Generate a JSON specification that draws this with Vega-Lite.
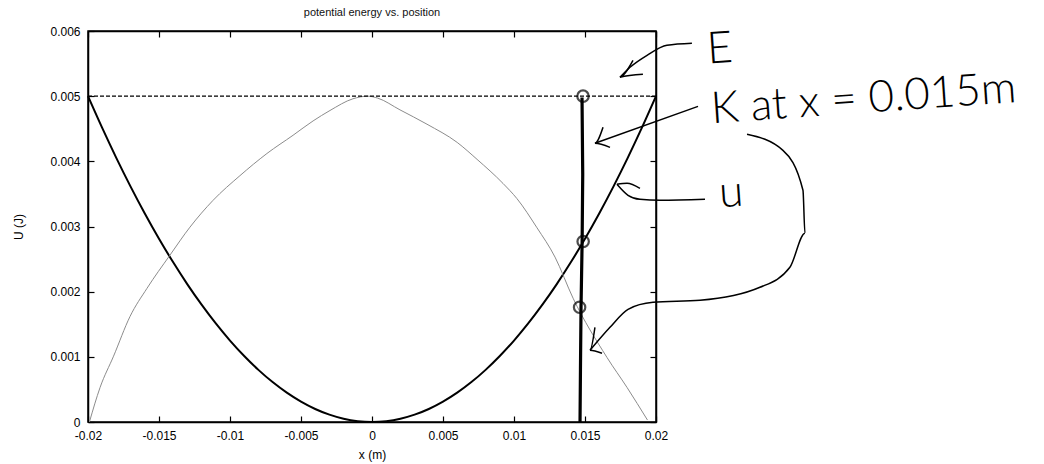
{
  "$schema": "https://vega.github.io/schema/vega-lite/v6.json",
  "autosize": "none",
  "width": 568,
  "height": 391,
  "padding": {"left": 88, "top": 31, "right": 388, "bottom": 42},
  "background": "white",
  "title": {"text": "potential energy vs. position", "fontSize": 11, "font": "Liberation Sans", "fontWeight": "normal", "color": "#111", "offset": 7, "anchor": "middle"},
  "config": {
    "view": {"stroke": "black", "strokeWidth": 1.5},
    "axis": {"grid": false, "labelFlush": false, "labelOverlap": false, "domainColor": "black", "domainWidth": 1.5, "tickColor": "black", "tickWidth": 1.2, "tickSize": -6, "labelFont": "Liberation Sans", "labelFontSize": 12, "labelColor": "black", "titleFont": "Liberation Sans", "titleFontSize": 12, "titleFontWeight": "normal", "titleColor": "black"}
  },
  "datasets": {
    "curves": [
      {"series": "U", "x": -0.02, "y": 0.005}, {"series": "U", "x": -0.019, "y": 0.0045125}, {"series": "U", "x": -0.018, "y": 0.00405}, {"series": "U", "x": -0.017, "y": 0.0036125}, {"series": "U", "x": -0.016, "y": 0.0032}, {"series": "U", "x": -0.015, "y": 0.0028125}, {"series": "U", "x": -0.014, "y": 0.00245}, {"series": "U", "x": -0.013, "y": 0.0021125}, {"series": "U", "x": -0.012, "y": 0.0018}, {"series": "U", "x": -0.011, "y": 0.0015125}, {"series": "U", "x": -0.01, "y": 0.00125}, {"series": "U", "x": -0.009, "y": 0.0010125}, {"series": "U", "x": -0.008, "y": 0.0008}, {"series": "U", "x": -0.007, "y": 0.0006125}, {"series": "U", "x": -0.006, "y": 0.00045}, {"series": "U", "x": -0.005, "y": 0.0003125}, {"series": "U", "x": -0.004, "y": 0.0002}, {"series": "U", "x": -0.003, "y": 0.0001125}, {"series": "U", "x": -0.002, "y": 0.00005}, {"series": "U", "x": -0.001, "y": 0.0000125}, {"series": "U", "x": 0, "y": 0},
      {"series": "U", "x": 0.001, "y": 0.0000125}, {"series": "U", "x": 0.002, "y": 0.00005}, {"series": "U", "x": 0.003, "y": 0.0001125}, {"series": "U", "x": 0.004, "y": 0.0002}, {"series": "U", "x": 0.005, "y": 0.0003125}, {"series": "U", "x": 0.006, "y": 0.00045}, {"series": "U", "x": 0.007, "y": 0.0006125}, {"series": "U", "x": 0.008, "y": 0.0008}, {"series": "U", "x": 0.009, "y": 0.0010125}, {"series": "U", "x": 0.01, "y": 0.00125}, {"series": "U", "x": 0.011, "y": 0.0015125}, {"series": "U", "x": 0.012, "y": 0.0018}, {"series": "U", "x": 0.013, "y": 0.0021125}, {"series": "U", "x": 0.014, "y": 0.00245}, {"series": "U", "x": 0.015, "y": 0.0028125}, {"series": "U", "x": 0.016, "y": 0.0032}, {"series": "U", "x": 0.017, "y": 0.0036125}, {"series": "U", "x": 0.018, "y": 0.00405}, {"series": "U", "x": 0.019, "y": 0.0045125}, {"series": "U", "x": 0.02, "y": 0.005},
      {"series": "K", "x": -0.0199, "y": 0}, {"series": "K", "x": -0.01915, "y": 0.00053}, {"series": "K", "x": -0.0182, "y": 0.00101}, {"series": "K", "x": -0.01704, "y": 0.00162}, {"series": "K", "x": -0.01585, "y": 0.00205}, {"series": "K", "x": -0.01423, "y": 0.00256}, {"series": "K", "x": -0.01282, "y": 0.00299}, {"series": "K", "x": -0.0112, "y": 0.0034}, {"series": "K", "x": -0.0093, "y": 0.00378}, {"series": "K", "x": -0.0074, "y": 0.00412}, {"series": "K", "x": -0.00556, "y": 0.0044}, {"series": "K", "x": -0.00415, "y": 0.00462}, {"series": "K", "x": -0.00296, "y": 0.00478}, {"series": "K", "x": -0.00134, "y": 0.00496}, {"series": "K", "x": -0.0003, "y": 0.005}, {"series": "K", "x": 0.0004, "y": 0.00497}, {"series": "K", "x": 0.00197, "y": 0.00479}, {"series": "K", "x": 0.00387, "y": 0.00457}, {"series": "K", "x": 0.006, "y": 0.00429}, {"series": "K", "x": 0.0074, "y": 0.00403}, {"series": "K", "x": 0.00923, "y": 0.00366}, {"series": "K", "x": 0.0102, "y": 0.00343}, {"series": "K", "x": 0.01162, "y": 0.00298}, {"series": "K", "x": 0.01289, "y": 0.00253}, {"series": "K", "x": 0.01416, "y": 0.0019}, {"series": "K", "x": 0.01655, "y": 0.00099}, {"series": "K", "x": 0.01796, "y": 0.00053}, {"series": "K", "x": 0.0194, "y": 0.00003}
    ],
    "energy": [{"x": -0.02, "y": 0.005}, {"x": 0.02, "y": 0.005}],
    "hand": [
      {"stroke": "vline", "o": 1, "x": 0.01479, "y": 0.00498}, {"stroke": "vline", "o": 2, "x": 0.01484, "y": 0.0038}, {"stroke": "vline", "o": 3, "x": 0.0148, "y": 0.0028}, {"stroke": "vline", "o": 4, "x": 0.01472, "y": 0.00175}, {"stroke": "vline", "o": 5, "x": 0.01468, "y": 0.0008}, {"stroke": "vline", "o": 6, "x": 0.01465, "y": 0.0},
      {"stroke": "Earrow", "o": 1, "x": 0.02253, "y": 0.005811}, {"stroke": "Earrow", "o": 2, "x": 0.02077, "y": 0.00578}, {"stroke": "Earrow", "o": 3, "x": 0.01937, "y": 0.005627}, {"stroke": "Earrow", "o": 4, "x": 0.01817, "y": 0.005443}, {"stroke": "Earrow", "o": 5, "x": 0.01746, "y": 0.005289},
      {"stroke": "Ehead", "o": 1, "x": 0.01838, "y": 0.00555}, {"stroke": "Ehead", "o": 2, "x": 0.01746, "y": 0.005289}, {"stroke": "Ehead", "o": 3, "x": 0.01908, "y": 0.005336},
      {"stroke": "Karrow", "o": 1, "x": 0.02296, "y": 0.004844}, {"stroke": "Karrow", "o": 2, "x": 0.0157, "y": 0.004277},
      {"stroke": "Khead", "o": 1, "x": 0.01627, "y": 0.004522}, {"stroke": "Khead", "o": 2, "x": 0.0157, "y": 0.004277}, {"stroke": "Khead", "o": 3, "x": 0.01676, "y": 0.004215},
      {"stroke": "uarrow", "o": 1, "x": 0.02345, "y": 0.003417}, {"stroke": "uarrow", "o": 2, "x": 0.02028, "y": 0.003402}, {"stroke": "uarrow", "o": 3, "x": 0.01887, "y": 0.003417}, {"stroke": "uarrow", "o": 4, "x": 0.01803, "y": 0.003479}, {"stroke": "uarrow", "o": 5, "x": 0.01725, "y": 0.003648},
      {"stroke": "uhead", "o": 1, "x": 0.01725, "y": 0.003648}, {"stroke": "uhead", "o": 2, "x": 0.01796, "y": 0.003663}, {"stroke": "uhead", "o": 3, "x": 0.01887, "y": 0.003586},
      {"stroke": "loop", "o": 1, "x": 0.02641, "y": 0.004415}, {"stroke": "loop", "o": 2, "x": 0.02894, "y": 0.004169}, {"stroke": "loop", "o": 3, "x": 0.03035, "y": 0.003556}, {"stroke": "loop", "o": 4, "x": 0.03049, "y": 0.002896}, {"stroke": "loop", "o": 5, "x": 0.02943, "y": 0.002374}, {"stroke": "loop", "o": 6, "x": 0.02732, "y": 0.002067}, {"stroke": "loop", "o": 7, "x": 0.0231, "y": 0.001867}, {"stroke": "loop", "o": 8, "x": 0.01979, "y": 0.001837}, {"stroke": "loop", "o": 9, "x": 0.01803, "y": 0.001729}, {"stroke": "loop", "o": 10, "x": 0.01676, "y": 0.001453}, {"stroke": "loop", "o": 11, "x": 0.01535, "y": 0.0011},
      {"stroke": "loophead", "o": 1, "x": 0.0157, "y": 0.001453}, {"stroke": "loophead", "o": 2, "x": 0.01535, "y": 0.0011}, {"stroke": "loophead", "o": 3, "x": 0.0162, "y": 0.001054}
    ],
    "circles": [{"x": 0.01486, "y": 0.005}, {"x": 0.01487, "y": 0.00277}, {"x": 0.01462, "y": 0.00176}],
    "notes": [
      {"label": "E", "x": 0.02366, "y": 0.0055},
      {"label": "K at x = 0.015m", "x": 0.02394, "y": 0.004584},
      {"label": "u", "x": 0.0245, "y": 0.003295}
    ]
  },
  "layer": [
    {
      "data": {"name": "curves"},
      "transform": [{"filter": "datum.series === 'U'"}],
      "mark": {"type": "line", "color": "black", "strokeWidth": 2, "interpolate": "monotone"},
      "encoding": {
        "x": {"field": "x", "type": "quantitative", "scale": {"domain": [-0.02, 0.02], "nice": false, "zero": false}, "axis": {"orient": "bottom", "values": [-0.02, -0.015, -0.01, -0.005, 0, 0.005, 0.01, 0.015, 0.02], "labelExpr": "'' + datum.value", "labelPadding": 14, "title": "x (m)", "titlePadding": 8}},
        "y": {"field": "y", "type": "quantitative", "scale": {"domain": [0, 0.006], "nice": false}, "axis": {"orient": "left", "values": [0, 0.001, 0.002, 0.003, 0.004, 0.005, 0.006], "labelExpr": "'' + datum.value", "labelPadding": 14, "title": "U (J)", "titlePadding": 24}}
      }
    },
    {
      "data": {"name": "curves"},
      "transform": [{"filter": "datum.series === 'K'"}],
      "mark": {"type": "line", "color": "#8c8c8c", "strokeWidth": 1, "interpolate": "monotone"},
      "encoding": {
        "x": {"field": "x", "type": "quantitative", "axis": {"orient": "top", "values": [-0.02, -0.015, -0.01, -0.005, 0, 0.005, 0.01, 0.015, 0.02], "labels": false, "title": null}},
        "y": {"field": "y", "type": "quantitative", "axis": {"orient": "right", "values": [0, 0.001, 0.002, 0.003, 0.004, 0.005, 0.006], "labels": false, "title": null}}
      }
    },
    {
      "data": {"name": "energy"},
      "mark": {"type": "line", "color": "black", "strokeWidth": 1.2, "strokeDash": [4, 2]},
      "encoding": {
        "x": {"field": "x", "type": "quantitative", "axis": null},
        "y": {"field": "y", "type": "quantitative", "axis": null}
      }
    },
    {
      "data": {"name": "hand"},
      "transform": [{"filter": "datum.stroke === 'vline'"}],
      "mark": {"type": "line", "color": "black", "strokeWidth": 3.2, "clip": false},
      "encoding": {
        "x": {"field": "x", "type": "quantitative", "axis": null},
        "y": {"field": "y", "type": "quantitative", "axis": null},
        "order": {"field": "o"}
      }
    },
    {
      "data": {"name": "hand"},
      "transform": [{"filter": "datum.stroke !== 'vline'"}],
      "mark": {"type": "line", "color": "black", "strokeWidth": 1.5, "clip": false, "interpolate": "monotone"},
      "encoding": {
        "x": {"field": "x", "type": "quantitative", "axis": null},
        "y": {"field": "y", "type": "quantitative", "axis": null},
        "detail": {"field": "stroke"},
        "order": {"field": "o"}
      }
    },
    {
      "data": {"name": "circles"},
      "mark": {"type": "point", "shape": "circle", "size": 130, "stroke": "black", "strokeWidth": 2.2, "filled": false, "clip": false},
      "encoding": {
        "x": {"field": "x", "type": "quantitative", "axis": null},
        "y": {"field": "y", "type": "quantitative", "axis": null}
      }
    },
    {
      "data": {"name": "notes"},
      "mark": {"type": "text", "align": "left", "baseline": "alphabetic", "font": "Lato", "fontWeight": 300, "fontSize": 44, "color": "black", "angle": 356, "clip": false},
      "encoding": {
        "x": {"field": "x", "type": "quantitative", "axis": null},
        "y": {"field": "y", "type": "quantitative", "axis": null},
        "text": {"field": "label"}
      }
    }
  ],
  "resolve": {"axis": {"x": "independent", "y": "independent"}}
}
